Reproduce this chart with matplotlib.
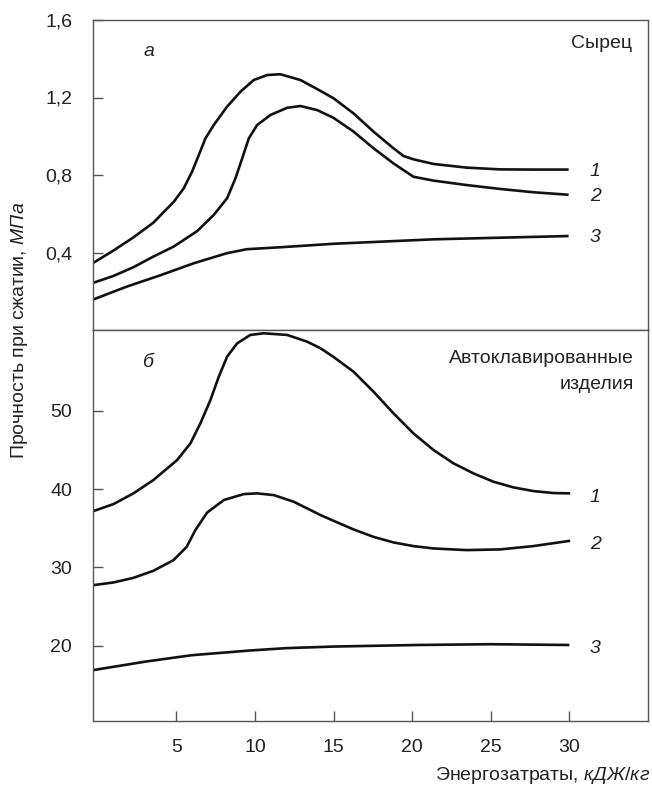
import numpy as np
import matplotlib
matplotlib.use("Agg")
import matplotlib.pyplot as plt

plt.rcParams['font.family'] = ['Liberation Sans', 'DejaVu Sans']
plt.rcParams['mathtext.fontset'] = 'custom'
plt.rcParams['mathtext.rm'] = 'Liberation Sans'
plt.rcParams['mathtext.it'] = 'Liberation Sans:italic'

# Сырец (верхний график), МПа
x_raw1 = [-0.27, 1.0, 2.27, 3.54, 4.84, 5.47, 6.0, 6.43, 6.85, 7.38,
          8.23, 9.08, 9.92, 10.78, 11.62, 12.9, 14.06, 15.0, 16.27, 17.54,
          18.81, 19.45, 20.08, 21.36, 23.47, 25.6, 27.7, 29.95]
y_raw1 = [0.347, 0.41, 0.478, 0.554, 0.662, 0.731, 0.817, 0.903, 0.989,
          1.058, 1.153, 1.23, 1.29, 1.316, 1.32, 1.29, 1.239, 1.196, 1.118,
          1.024, 0.938, 0.898, 0.881, 0.857, 0.838, 0.829, 0.828, 0.828]

x_raw2 = [-0.27, 1.0, 2.27, 3.54, 4.82, 6.32, 7.38, 8.23, 8.76, 9.19,
          9.61, 10.14, 10.99, 12.05, 12.9, 13.96, 15.0, 16.27, 17.54, 18.81,
          20.08, 21.36, 23.47, 25.6, 27.7, 29.95]
y_raw2 = [0.244, 0.279, 0.324, 0.379, 0.43, 0.51, 0.594, 0.68, 0.783,
          0.886, 0.989, 1.058, 1.11, 1.147, 1.156, 1.135, 1.095, 1.024, 0.938,
          0.86, 0.791, 0.771, 0.748, 0.728, 0.711, 0.698]

x_raw3 = [-0.27, 1.85, 3.97, 6.09, 8.2, 9.48, 11.6, 15.0, 21.36, 29.95]
y_raw3 = [0.158, 0.224, 0.282, 0.344, 0.396, 0.417, 0.427, 0.445, 0.468, 0.485]

# Автоклавированные изделия (нижний график), МПа
x_auto1 = [-0.27, 1.0, 2.27, 3.54, 5.05, 5.9, 6.53, 7.17, 7.7, 8.23,
           8.87, 9.71, 10.56, 12.05, 13.32, 14.17, 15.0, 16.27, 17.54, 18.81,
           20.08, 21.36, 22.63, 23.9, 25.18, 26.45, 27.72, 29.0, 30.05]
y_auto1 = [37.19, 38.08, 39.45, 41.15, 43.7, 45.84, 48.39, 51.37, 54.34,
           56.9, 58.6, 59.67, 59.88, 59.67, 58.81, 57.97, 56.86, 54.98, 52.43,
           49.67, 47.11, 44.98, 43.28, 42.0, 40.93, 40.21, 39.74, 39.49, 39.45]

x_auto2 = [-0.27, 1.0, 2.27, 3.54, 4.82, 5.66, 6.21, 6.96, 8.02, 9.29, 10.14,
           11.2, 12.47, 14.17, 15.0, 16.27, 17.54, 18.81, 20.08, 21.36, 23.47,
           25.6, 27.7, 30.05]
y_auto2 = [27.74, 28.08, 28.67, 29.57, 30.93, 32.63, 34.76, 37.0, 38.6, 39.36,
           39.45, 39.23, 38.38, 36.68, 35.95, 34.85, 33.9, 33.19, 32.72, 32.42,
           32.21, 32.3, 32.72, 33.4]

x_auto3 = [-0.27, 3.1, 6.0, 9.7, 12.0, 15.0, 20.3, 25.0, 30.0]
y_auto3 = [16.9, 18.0, 18.8, 19.4, 19.7, 19.9, 20.1, 20.2, 20.1]

x_ticks = [5, 10, 15, 20, 25, 30]
top_ticks = [0.4, 0.8, 1.2, 1.6]
top_labels = ['0,4', '0,8', '1,2', '1,6']
bot_ticks = [20, 30, 40, 50]
curve_names = ['1', '2', '3']

W, H = 652, 785
fig = plt.figure(figsize=(W / 100, H / 100), dpi=100)

left = 93 / W
width = (648 - 93) / W
ax_top = fig.add_axes([left, 1 - 330 / H, width, (330 - 20) / H])
ax_bot = fig.add_axes([left, 1 - 721 / H, width, (721 - 330) / H])

frame = '#555555'
txt = '#222222'
fs = 14

for ax in (ax_top, ax_bot):
    ax.set_xlim(-0.3, 35)
    for s in ax.spines.values():
        s.set_color(frame)
        s.set_linewidth(1.0)
    ax.tick_params(direction='in', length=7, width=1.0, color=frame,
                   labelcolor=txt, labelsize=fs)
    ax.tick_params(axis='y', pad=15)
    ax.tick_params(axis='x', pad=13)

# верхний график
for xs, ys in [(x_raw1, y_raw1), (x_raw2, y_raw2), (x_raw3, y_raw3)]:
    ax_top.plot(xs, ys, color='#111111', lw=1.9, solid_capstyle='butt',
                solid_joinstyle='round')
ax_top.set_ylim(0, 1.6)
ax_top.set_yticks(top_ticks)
ax_top.set_yticklabels(top_labels)
ax_top.set_xticks([])
ax_top.text(2.9, 1.44, 'а', fontsize=fs, style='italic', color=txt, va='center')
ax_top.text(34.0, 1.48, 'Сырец', fontsize=fs, color=txt, ha='right', va='center')
for name, ys in zip(curve_names, [y_raw1, y_raw2, y_raw3]):
    ax_top.text(31.3, ys[-1] - 0.01, name, fontsize=fs, style='italic',
                color=txt, va='center')

# нижний график
for xs, ys in [(x_auto1, y_auto1), (x_auto2, y_auto2), (x_auto3, y_auto3)]:
    ax_bot.plot(xs, ys, color='#111111', lw=1.9, solid_capstyle='butt',
                solid_joinstyle='round')
ax_bot.set_ylim(10.4, 60.3)
ax_bot.set_yticks(bot_ticks)
ax_bot.set_xticks(x_ticks)
ax_bot.text(2.9, 56.1, 'б', fontsize=fs, style='italic', color=txt, va='center')
ax_bot.text(34.1, 56.6, 'Автоклавированные', fontsize=fs, color=txt,
            ha='right', va='center')
ax_bot.text(34.1, 53.4, 'изделия', fontsize=fs, color=txt,
            ha='right', va='center')
for name, ys in zip(curve_names, [y_auto1, y_auto2, y_auto3]):
    ax_bot.text(31.3, ys[-1] - 0.5, name, fontsize=fs, style='italic',
                color=txt, va='center')

fig.text(20 / W, 1 - 330 / H, r'Прочность при сжатии, $\mathit{МПа}$',
         rotation=90, ha='center', va='center', fontsize=fs, color=txt)
fig.text(650 / W, 1 - 775 / H, r'Энергозатраты, $\mathit{кДЖ/кг}$',
         ha='right', va='center', fontsize=fs, color=txt)

fig.savefig('out.png', dpi=100)
